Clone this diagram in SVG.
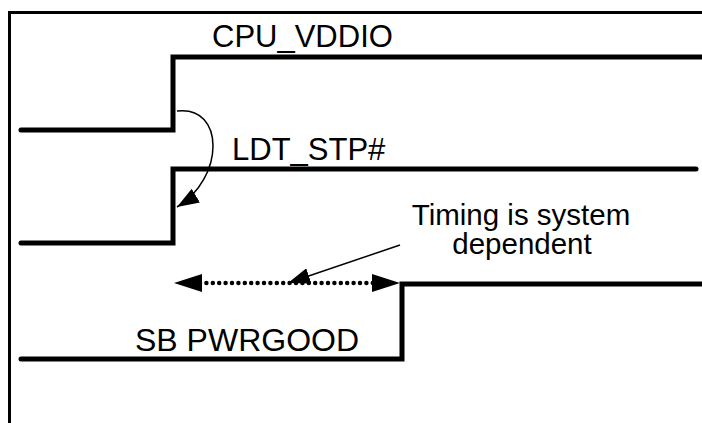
<svg xmlns="http://www.w3.org/2000/svg" width="702" height="423" viewBox="0 0 702 423">
<style>
.frame{fill:none;stroke:#000;stroke-width:3}
.wave{fill:none;stroke:#000;stroke-width:5;stroke-linecap:round;stroke-linejoin:miter}
.lbl{font-family:"Liberation Sans",Arial,sans-serif;font-size:31px;fill:#000}
.thin{fill:none;stroke:#000;stroke-width:1.5}
.dots{fill:none;stroke:#000;stroke-width:4.5;stroke-linecap:round;stroke-dasharray:0 6.4}
</style>
<defs>
<marker id="big" viewBox="0 0 28 18" refX="28" refY="9" markerWidth="28" markerHeight="18" markerUnits="userSpaceOnUse" orient="auto">
<path d="M0,0 L28,9 L0,18 Z" fill="#000"/>
</marker>
<marker id="mid" viewBox="0 0 22 16" refX="22" refY="8" markerWidth="22" markerHeight="16" markerUnits="userSpaceOnUse" orient="auto">
<path d="M0,0 L22,8 L0,16 Z" fill="#000"/>
</marker>
</defs>
<g id="frame">
<path class="frame" d="M9.5,423 V12.5 H702"/>
</g>
<g id="cpu_vddio">
<path class="wave" d="M21,130 H173 V57 H710"/>
<text class="lbl" x="212" y="47">CPU_VDDIO</text>
</g>
<g id="ldt_stp">
<path class="wave" d="M21,243 H173 V169 H696"/>
<text class="lbl" x="232" y="160">LDT_STP#</text>
</g>
<g id="sb_pwrgood">
<path class="wave" d="M21,359 H402 V284 H710"/>
<text class="lbl" x="135" y="351" style="font-size:32px">SB PWRGOOD</text>
</g>
<g id="note">
<text class="lbl" x="521" y="225" text-anchor="middle" style="font-size:29.5px">Timing is system</text>
<text class="lbl" x="522" y="254" text-anchor="middle" style="font-size:29.5px">dependent</text>
</g>
<g id="connectors">
<path class="thin" d="M177,111 C225,105 225,178 177,207" marker-end="url(#mid)"/>
<path class="dots" d="M200,283 H374"/>
<path fill="none" stroke="none" d="M200,283 H174" marker-end="url(#big)"/>
<path fill="none" stroke="none" d="M372,283 H400" marker-end="url(#big)"/>
<path class="thin" d="M400,245 L288,283" marker-end="url(#mid)"/>
</g>
</svg>
